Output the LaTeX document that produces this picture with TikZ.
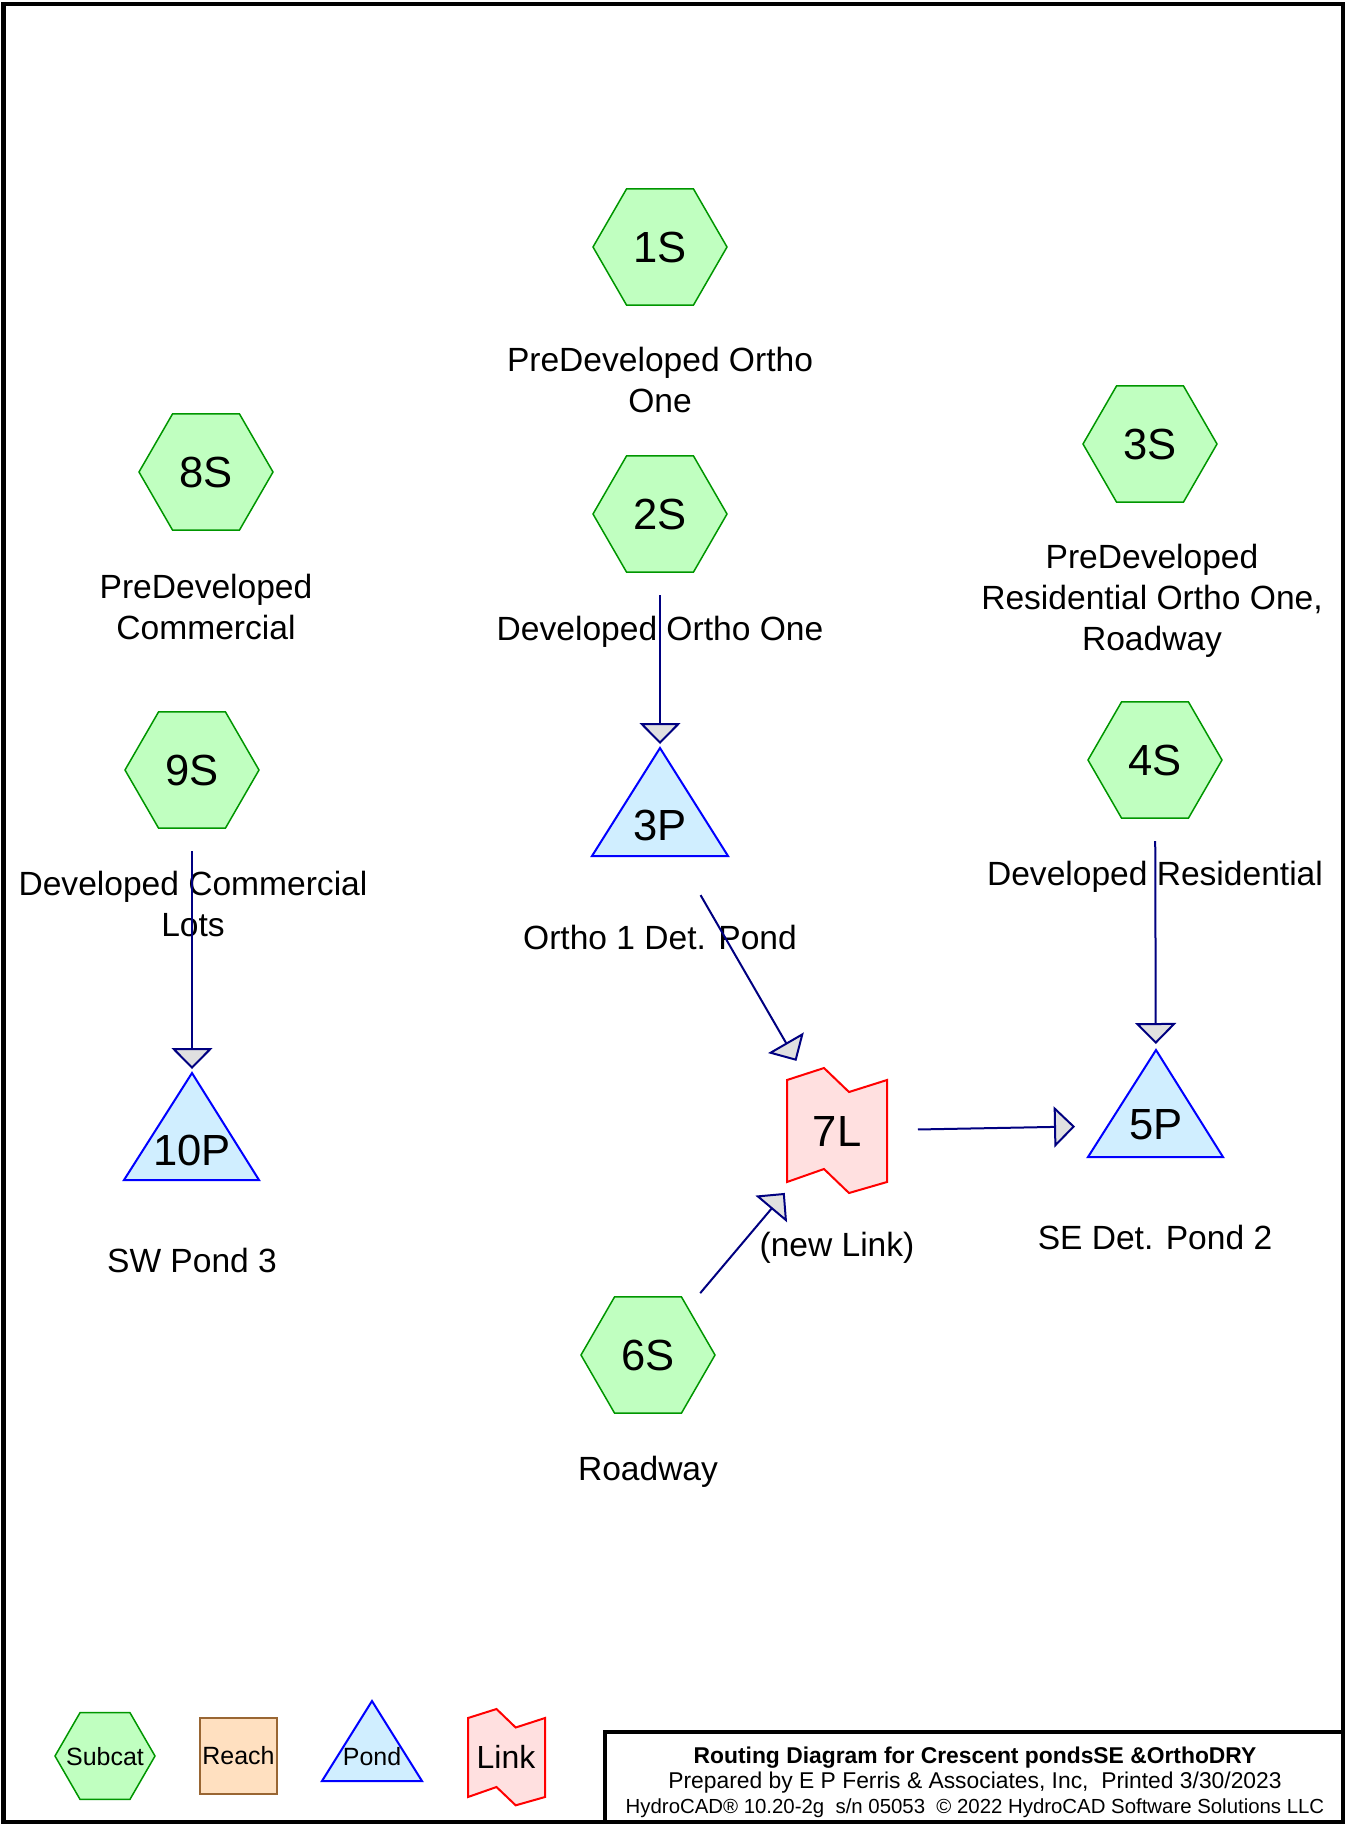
\documentclass[tikz,border=0pt]{standalone}
\usepackage{fontspec}
\setmainfont{Liberation Sans}
\usetikzlibrary{shapes.geometric,arrows.meta}
\definecolor{subfill}{RGB}{192,255,192}
\definecolor{subdraw}{RGB}{0,150,0}
\definecolor{pondfill}{RGB}{208,238,255}
\definecolor{linkfill}{RGB}{255,224,224}
\definecolor{reachfill}{RGB}{255,224,192}
\definecolor{reachdraw}{RGB}{153,102,51}
\definecolor{navy}{RGB}{0,0,128}
\definecolor{tipgray}{RGB}{224,224,224}

\begin{document}
\begin{tikzpicture}[x=0.2mm, y=-0.2mm,
    subcat/.style={regular polygon, regular polygon sides=6, draw=subdraw, fill=subfill, line width=0.3mm, minimum size=26.8mm, inner sep=0pt, font=\fontsize{24.8}{28}\selectfont},
    pondshape/.style={draw=blue, fill=pondfill, line width=0.4mm},
    linkshape/.style={draw=red, fill=linkfill, line width=0.4mm},
    nodeid/.style={inner sep=0pt, font=\fontsize{24.8}{28}\selectfont},
    lbl/.style={align=center, inner sep=0pt, font=\fontsize{19.1}{23.2}\selectfont},
    legend/.style={inner sep=0pt, font=\fontsize{14.2}{16}\selectfont},
    flow/.style={draw=navy, line width=0.4mm, -{Triangle[width=8.2mm, length=4.2mm, fill=tipgray]}, shorten <=16.2mm, shorten >=16.2mm}]
        \useasboundingbox (0,0) rectangle (1345,1825);

        % Subcatchments
        \node[subcat] (s1) at (660,247) {1S};
        \node[subcat] (s2) at (660,514) {2S};
        \node[subcat] (s3) at (1150,444) {3S};
        \node[subcat] (s4) at (1155,760) {4S};
        \node[subcat] (s8) at (206,472) {8S};
        \node[subcat] (s9) at (192,770) {9S};
        \node[subcat] (s6) at (648,1355) {6S};

        % Ponds
        \draw[pondshape] (592,856) -- (660,748) -- (728,856) -- cycle;
        \node[nodeid] (p3) at (660,825) {3P};
        \draw[pondshape] (1088,1157) -- (1156,1050) -- (1223,1157) -- cycle;
        \node[nodeid] (p5) at (1156,1125) {5P};
        \draw[pondshape] (124,1180) -- (192,1073) -- (259,1180) -- cycle;
        \node[nodeid] (p10) at (192,1150) {10P};

        % Link
        \draw[linkshape] (787,1080) -- (824,1068) -- (849,1092) -- (887,1080) -- (887,1182)
            -- (849,1193) -- (824,1169) -- (787,1182) -- cycle;
        \node[nodeid] (l7) at (837,1131) {7L};

        % Labels
        \node[lbl] (s1lbl) at (660,380) {PreDeveloped Ortho\\One};
        \node[lbl] (s2lbl) at (660,632) {Developed Ortho One};
        \node[lbl] (s3lbl) at (1152,601) {PreDeveloped\\Residential Ortho One,\\Roadway};
        \node[lbl] (s4lbl) at (1155,877) {Developed Residential};
        \node[lbl] (s8lbl) at (206,607) {PreDeveloped\\Commercial};
        \node[lbl] (s9lbl) at (193,904) {Developed Commercial\\Lots};
        \node[lbl] (s6lbl) at (648,1472) {Roadway};
        \node[lbl] (p3lbl) at (660,937) {Ortho 1 Det. Pond};
        \node[lbl] (p5lbl) at (1155,1237) {SE Det. Pond 2};
        \node[lbl] (p10lbl) at (192,1260) {SW Pond 3};
        \node[lbl] (l7lbl) at (837,1248) {(new Link)};

        % Arrows
        \draw[flow] (s2.center) -- (p3.center);
        \draw[flow] (s9.center) -- (p10.center);
        \draw[flow] (s4.center) -- (p5.center);
        \draw[flow] (p3.center) -- (l7.center);
        \draw[flow] (s6.center) -- (l7.center);
        \draw[flow] (l7.center) -- (p5.center);

        % Legend
        \node[subcat, minimum size=20mm] (legsub) at (105,1756) {};
        \node[legend] (legsubtxt) at (105,1757) {Subcat};
        \node[rectangle, draw=reachdraw, fill=reachfill, line width=0.3mm, minimum width=15.4mm, minimum height=15.2mm, legend] (legreach) at (238.5,1756) {Reach};
        \draw[pondshape] (322,1781) -- (372,1701) -- (422,1781) -- cycle;
        \node[legend] (legpond) at (372,1757) {Pond};
        \draw[linkshape] (468,1718) -- (496.5,1709) -- (515.7,1727.5) -- (545,1718) -- (545,1797)
            -- (515.7,1805.3) -- (496.5,1787) -- (468,1797) -- cycle;
        \node[inner sep=0pt, font=\fontsize{18.2}{20}\selectfont] (leglink) at (506,1757) {Link};

        % Frame and title block
        \draw[line width=0.8mm] (3.5,3.5) rectangle (1343,1822);
        \draw[line width=0.7mm] (605,1732) rectangle (1343,1822);
        \node[align=center, inner sep=0pt, font=\fontsize{13}{14.3}\selectfont] (title) at (975,1782)
            {\textbf{Routing Diagram for Crescent pondsSE \&OrthoDRY}\\
             Prepared by E P Ferris \& Associates, Inc,~ Printed 3/30/2023\\
             \fontsize{11.6}{14.3}\selectfont HydroCAD\textregistered{} 10.20-2g~ s/n 05053~ \textcopyright{} 2022 HydroCAD Software Solutions LLC};
    \end{tikzpicture}
\end{document}
